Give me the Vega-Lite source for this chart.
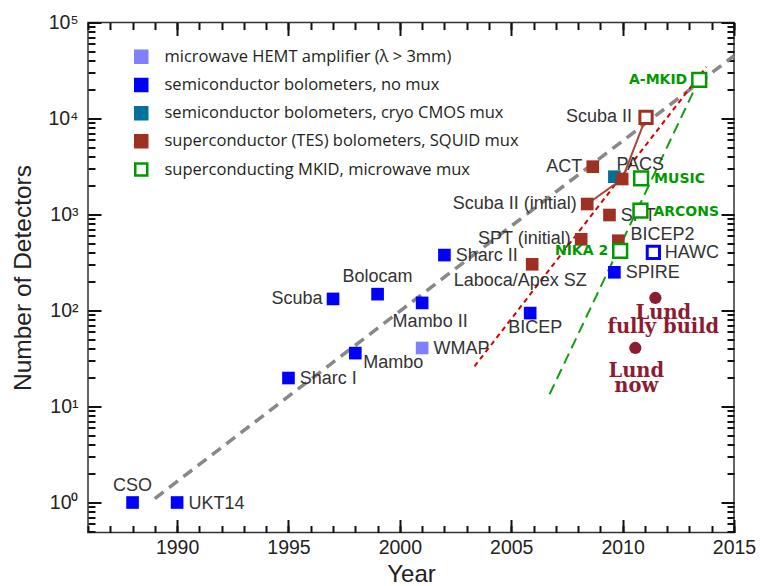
{
  "$schema": "https://vega.github.io/schema/vega-lite/v6.json",
  "width": 646,
  "height": 510,
  "autosize": {"type": "none"},
  "padding": {"left": 88, "top": 22.5, "right": 26, "bottom": 53.5},
  "background": "white",
  "config": {
    "view": {"stroke": "#333333", "strokeWidth": 1.5},
    "font": "Liberation Sans",
    "axis": {"domain": false, "grid": false, "labelColor": "#222222", "labelFont": "Liberation Sans", "labelFontSize": 19.5, "labelFlush": false, "labelOverlap": false, "titleFont": "Liberation Sans", "titleFontWeight": "normal", "titleColor": "#222222"}
  },
  "datasets": {
    "pts": [
      {"name": "CSO", "year": 1988, "n": 1, "type": "semiconductor bolometers, no mux", "stage": "built"},
      {"name": "UKT14", "year": 1990, "n": 1, "type": "semiconductor bolometers, no mux", "stage": "built"},
      {"name": "Sharc I", "year": 1995, "n": 19.8, "type": "semiconductor bolometers, no mux", "stage": "built"},
      {"name": "Scuba", "year": 1997, "n": 132, "type": "semiconductor bolometers, no mux", "stage": "built"},
      {"name": "Mambo", "year": 1998, "n": 36, "type": "semiconductor bolometers, no mux", "stage": "built"},
      {"name": "Bolocam", "year": 1999, "n": 148, "type": "semiconductor bolometers, no mux", "stage": "built"},
      {"name": "Mambo II", "year": 2001, "n": 120, "type": "semiconductor bolometers, no mux", "stage": "built"},
      {"name": "WMAP", "year": 2001, "n": 40.7, "type": "microwave HEMT amplifier (λ > 3mm)", "stage": "built"},
      {"name": "Sharc II", "year": 2002, "n": 378, "type": "semiconductor bolometers, no mux", "stage": "built"},
      {"name": "BICEP", "year": 2005.85, "n": 94, "type": "semiconductor bolometers, no mux", "stage": "built"},
      {"name": "Laboca/Apex SZ", "year": 2005.94, "n": 303, "type": "superconductor (TES) bolometers, SQUID mux", "stage": "built"},
      {"name": "SPT (initial)", "year": 2008.14, "n": 552, "type": "superconductor (TES) bolometers, SQUID mux", "stage": "built"},
      {"name": "Scuba II (initial)", "year": 2008.41, "n": 1286, "type": "superconductor (TES) bolometers, SQUID mux", "stage": "built"},
      {"name": "ACT", "year": 2008.66, "n": 3150, "type": "superconductor (TES) bolometers, SQUID mux", "stage": "built"},
      {"name": "PACS", "year": 2009.63, "n": 2477, "type": "semiconductor bolometers, cryo CMOS mux", "stage": "built"},
      {"name": "Scuba II (partial)", "year": 2009.98, "n": 2343, "type": "superconductor (TES) bolometers, SQUID mux", "stage": "built"},
      {"name": "SPT", "year": 2009.41, "n": 988, "type": "superconductor (TES) bolometers, SQUID mux", "stage": "built"},
      {"name": "BICEP2", "year": 2009.81, "n": 533, "type": "superconductor (TES) bolometers, SQUID mux", "stage": "built"},
      {"name": "SPIRE", "year": 2009.63, "n": 250, "type": "semiconductor bolometers, no mux", "stage": "built"},
      {"name": "Scuba II", "year": 2011.05, "n": 10300, "type": "superconductor (TES) bolometers, SQUID mux", "stage": "planned"},
      {"name": "HAWC", "year": 2011.38, "n": 404, "type": "semiconductor bolometers, no mux", "stage": "planned"},
      {"name": "A-MKID", "year": 2013.44, "n": 25200, "type": "superconducting MKID, microwave mux", "stage": "planned"},
      {"name": "MUSIC", "year": 2010.83, "n": 2383, "type": "superconducting MKID, microwave mux", "stage": "planned"},
      {"name": "ARCONS", "year": 2010.8, "n": 1096, "type": "superconducting MKID, microwave mux", "stage": "planned"},
      {"name": "NIKA 2", "year": 2009.89, "n": 417, "type": "superconducting MKID, microwave mux", "stage": "planned"},
      {"name": "Lund\nfully build", "year": 2011.47, "n": 135, "type": "Lund", "stage": "planned"},
      {"name": "Lund\nnow", "year": 2010.57, "n": 40.7, "type": "Lund", "stage": "built"}
    ],
    "lines": [
      {"line": "gray", "year": 1989.0, "n": 1.1},
      {"line": "gray", "year": 2015, "n": 45000},
      {"line": "red", "year": 2003.35, "n": 26.2},
      {"line": "red", "year": 2013.76, "n": 34500},
      {"line": "green", "year": 2006.72, "n": 13.4},
      {"line": "green", "year": 2013.58, "n": 29900}
    ]
  },
  "resolve": {"axis": {"x": "independent", "y": "independent"}},
  "layer": [
    {
      "data": {"name": "lines"},
      "transform": [{"filter": "datum.line === 'gray'"}],
      "mark": {"type": "line", "color": "#888888", "strokeWidth": 3.5, "strokeDash": [11, 7]},
      "encoding": {
        "x": {"field": "year", "type": "quantitative", "scale": {"domain": [1986, 2015], "nice": false, "zero": false},
          "axis": {"orient": "bottom", "values": [1986,1987,1988,1989,1990,1991,1992,1993,1994,1995,1996,1997,1998,1999,2000,2001,2002,2003,2004,2005,2006,2007,2008,2009,2010,2011,2012,2013,2014,2015], "offset": -7, "tickSize": 7, "tickColor": "#111111", "tickWidth": 2, "format": "d", "labelExpr": "datum.value % 5 === 0 ? datum.label : ''", "labelPadding": 6, "title": "Year", "titleFontSize": 24, "titleX": 323, "titleY": 56, "titleBaseline": "alphabetic", "titleAlign": "center"}},
        "y": {"field": "n", "type": "quantitative", "scale": {"type": "log", "domain": [0.487, 100000], "nice": false},
          "axis": {"orient": "left", "values": [0.5,0.6,0.7,0.8,0.9,1,2,3,4,5,6,7,8,9,10,20,30,40,50,60,70,80,90,100,200,300,400,500,600,700,800,900,1000,2000,3000,4000,5000,6000,7000,8000,9000,10000,20000,30000,40000,50000,60000,70000,80000,90000,100000], "offset": -7, "tickSize": 7, "tickColor": "#111111", "tickWidth": 2, "labelExpr": "datum.value === 1 ? '10⁰' : datum.value === 10 ? '10¹' : datum.value === 100 ? '10²' : datum.value === 1000 ? '10³' : datum.value === 10000 ? '10⁴' : datum.value === 100000 ? '10⁵' : ''", "labelPadding": 10, "title": "Number of Detectors", "titleFontSize": 24.5, "titleX": -72, "titleY": 255, "titleAngle": -90, "titleAlign": "center", "titleBaseline": "middle"}}
      }
    },
    {
      "data": {"name": "lines"},
      "transform": [{"filter": "datum.line === 'red'"}],
      "mark": {"type": "line", "color": "#d40000", "strokeWidth": 2, "strokeDash": [5, 4]},
      "encoding": {
        "x": {"field": "year", "type": "quantitative", "scale": {"domain": [1986, 2015], "nice": false, "zero": false},
          "axis": {"orient": "bottom", "values": [1990,1995,2000,2005,2010,2015], "offset": -13, "tickSize": 13, "tickColor": "#111111", "tickWidth": 2, "labels": false, "title": null}},
        "y": {"field": "n", "type": "quantitative", "scale": {"type": "log", "domain": [0.487, 100000], "nice": false},
          "axis": {"orient": "left", "values": [1,10,100,1000,10000,100000], "offset": -13, "tickSize": 13, "tickColor": "#111111", "tickWidth": 2, "labels": false, "title": null}}
      }
    },
    {
      "data": {"name": "lines"},
      "transform": [{"filter": "datum.line === 'green'"}],
      "mark": {"type": "line", "color": "#12a012", "strokeWidth": 2, "strokeDash": [11, 6]},
      "encoding": {
        "x": {"field": "year", "type": "quantitative", "scale": {"domain": [1986, 2015], "nice": false, "zero": false},
          "axis": {"orient": "top", "values": [1986,1987,1988,1989,1990,1991,1992,1993,1994,1995,1996,1997,1998,1999,2000,2001,2002,2003,2004,2005,2006,2007,2008,2009,2010,2011,2012,2013,2014,2015], "offset": -7, "tickSize": 7, "tickColor": "#111111", "tickWidth": 2, "labels": false, "title": null}},
        "y": {"field": "n", "type": "quantitative", "scale": {"type": "log", "domain": [0.487, 100000], "nice": false},
          "axis": {"orient": "right", "values": [0.5,0.6,0.7,0.8,0.9,1,2,3,4,5,6,7,8,9,10,20,30,40,50,60,70,80,90,100,200,300,400,500,600,700,800,900,1000,2000,3000,4000,5000,6000,7000,8000,9000,10000,20000,30000,40000,50000,60000,70000,80000,90000,100000], "offset": -7, "tickSize": 7, "tickColor": "#111111", "tickWidth": 2, "labels": false, "title": null}}
      }
    },
    {
      "data": {"name": "pts"},
      "transform": [{"filter": {"field": "name", "oneOf": ["Scuba II (initial)", "Scuba II (partial)", "Scuba II"]}}],
      "mark": {"type": "line", "color": "#a8473a", "strokeWidth": 2},
      "encoding": {
        "x": {"field": "year", "type": "quantitative", "scale": {"domain": [1986, 2015], "nice": false, "zero": false},
          "axis": {"orient": "top", "values": [1990,1995,2000,2005,2010,2015], "offset": -13, "tickSize": 13, "tickColor": "#111111", "tickWidth": 2, "labels": false, "title": null}},
        "y": {"field": "n", "type": "quantitative", "scale": {"type": "log", "domain": [0.487, 100000], "nice": false},
          "axis": {"orient": "right", "values": [1,10,100,1000,10000,100000], "offset": -13, "tickSize": 13, "tickColor": "#111111", "tickWidth": 2, "labels": false, "title": null}}
      }
    },
    {
      "data": {"name": "pts"},
      "transform": [{"filter": {"and": [{"not": {"field": "type", "oneOf": ["superconducting MKID, microwave mux", "Lund"]}}, {"not": {"field": "stage", "equal": "planned"}}]}}],
      "mark": {"type": "point", "shape": "square", "filled": true, "size": 160, "opacity": 1, "strokeWidth": 0},
      "encoding": {
        "x": {"field": "year", "type": "quantitative", "scale": {"domain": [1986, 2015], "nice": false, "zero": false}, "axis": null},
        "y": {"field": "n", "type": "quantitative", "scale": {"type": "log", "domain": [0.487, 100000], "nice": false}, "axis": null},
        "fill": {"field": "type", "type": "nominal",
          "scale": {"domain": ["microwave HEMT amplifier (λ > 3mm)", "semiconductor bolometers, no mux", "semiconductor bolometers, cryo CMOS mux", "superconductor (TES) bolometers, SQUID mux", "superconducting MKID, microwave mux"], "range": ["#8080ff", "#0000ff", "#00719b", "#9e3122", "#ffffff"]},
          "legend": {"title": null, "orient": "none", "legendX": 45, "legendY": 26, "symbolType": "square", "symbolSize": 144, "symbolStrokeWidth": 2.5, "symbolOpacity": 1, "labelFont": "Open Sans", "labelFontSize": 16.5, "labelColor": "#231f20", "labelOffset": 15, "labelLimit": 500, "rowPadding": 5.2, "padding": 0,
            "encode": {"symbols": {"update": {"stroke": {"scale": "stroke", "field": "value"}, "strokeWidth": {"value": 2.5}}}}}}
      }
    },
    {
      "data": {"name": "pts"},
      "transform": [{"filter": {"and": [{"not": {"field": "type", "oneOf": ["superconducting MKID, microwave mux", "Lund"]}}, {"field": "stage", "equal": "planned"}]}}],
      "mark": {"type": "point", "shape": "square", "size": 150, "opacity": 1, "strokeWidth": 3, "fill": "#ffffff", "fillOpacity": 1},
      "encoding": {
        "x": {"field": "year", "type": "quantitative", "scale": {"domain": [1986, 2015], "nice": false, "zero": false}, "axis": null},
        "y": {"field": "n", "type": "quantitative", "scale": {"type": "log", "domain": [0.487, 100000], "nice": false}, "axis": null},
        "stroke": {"field": "type", "type": "nominal",
          "scale": {"domain": ["microwave HEMT amplifier (λ > 3mm)", "semiconductor bolometers, no mux", "semiconductor bolometers, cryo CMOS mux", "superconductor (TES) bolometers, SQUID mux", "superconducting MKID, microwave mux"], "range": ["#8080ff", "#0000ff", "#00719b", "#9e3122", "#009a00"]},
          "legend": null}
      }
    },
    {
      "data": {"name": "pts"},
      "transform": [{"filter": {"field": "name", "oneOf": ["UKT14", "Sharc I", "WMAP", "Sharc II", "SPT", "HAWC", "SPIRE"]}}],
      "mark": {"type": "text", "align": "left", "baseline": "middle", "dx": 11.3, "dy": 1, "font": "Liberation Sans", "fontSize": 18, "fill": "#333333"},
      "encoding": {
        "x": {"field": "year", "type": "quantitative", "scale": {"domain": [1986, 2015], "nice": false, "zero": false}, "axis": null},
        "y": {"field": "n", "type": "quantitative", "scale": {"type": "log", "domain": [0.487, 100000], "nice": false}, "axis": null},
        "text": {"field": "name"}
      }
    },
    {
      "data": {"name": "pts"},
      "transform": [{"filter": {"field": "name", "oneOf": ["Scuba", "SPT (initial)", "Scuba II (initial)", "ACT"]}}],
      "mark": {"type": "text", "align": "right", "baseline": "middle", "dx": -10.5, "dy": 0, "font": "Liberation Sans", "fontSize": 18, "fill": "#333333"},
      "encoding": {
        "x": {"field": "year", "type": "quantitative", "scale": {"domain": [1986, 2015], "nice": false, "zero": false}, "axis": null},
        "y": {"field": "n", "type": "quantitative", "scale": {"type": "log", "domain": [0.487, 100000], "nice": false}, "axis": null},
        "text": {"field": "name"}
      }
    },
    {
      "data": {"name": "pts"},
      "transform": [{"filter": {"field": "name", "equal": "Scuba II"}}],
      "mark": {"type": "text", "align": "right", "baseline": "middle", "dx": -14, "dy": 0, "font": "Liberation Sans", "fontSize": 18, "fill": "#333333"},
      "encoding": {
        "x": {"field": "year", "type": "quantitative", "scale": {"domain": [1986, 2015], "nice": false, "zero": false}, "axis": null},
        "y": {"field": "n", "type": "quantitative", "scale": {"type": "log", "domain": [0.487, 100000], "nice": false}, "axis": null},
        "text": {"field": "name"}
      }
    },
    {
      "data": {"name": "pts"},
      "transform": [{"filter": {"field": "name", "oneOf": ["CSO", "Bolocam"]}}],
      "mark": {"type": "text", "align": "center", "baseline": "middle", "dx": 0, "dy": -17, "font": "Liberation Sans", "fontSize": 18, "fill": "#333333"},
      "encoding": {
        "x": {"field": "year", "type": "quantitative", "scale": {"domain": [1986, 2015], "nice": false, "zero": false}, "axis": null},
        "y": {"field": "n", "type": "quantitative", "scale": {"type": "log", "domain": [0.487, 100000], "nice": false}, "axis": null},
        "text": {"field": "name"}
      }
    },
    {
      "data": {"name": "pts"},
      "transform": [{"filter": {"field": "name", "equal": "Mambo"}}],
      "mark": {"type": "text", "align": "left", "baseline": "middle", "dx": 8, "dy": 10, "font": "Liberation Sans", "fontSize": 18, "fill": "#333333"},
      "encoding": {
        "x": {"field": "year", "type": "quantitative", "scale": {"domain": [1986, 2015], "nice": false, "zero": false}, "axis": null},
        "y": {"field": "n", "type": "quantitative", "scale": {"type": "log", "domain": [0.487, 100000], "nice": false}, "axis": null},
        "text": {"field": "name"}
      }
    },
    {
      "data": {"name": "pts"},
      "transform": [{"filter": {"field": "name", "equal": "Mambo II"}}],
      "mark": {"type": "text", "align": "center", "baseline": "middle", "dx": 8, "dy": 19, "font": "Liberation Sans", "fontSize": 18, "fill": "#333333"},
      "encoding": {
        "x": {"field": "year", "type": "quantitative", "scale": {"domain": [1986, 2015], "nice": false, "zero": false}, "axis": null},
        "y": {"field": "n", "type": "quantitative", "scale": {"type": "log", "domain": [0.487, 100000], "nice": false}, "axis": null},
        "text": {"field": "name"}
      }
    },
    {
      "data": {"name": "pts"},
      "transform": [{"filter": {"field": "name", "equal": "BICEP"}}],
      "mark": {"type": "text", "align": "center", "baseline": "middle", "dx": 5, "dy": 15, "font": "Liberation Sans", "fontSize": 18, "fill": "#333333"},
      "encoding": {
        "x": {"field": "year", "type": "quantitative", "scale": {"domain": [1986, 2015], "nice": false, "zero": false}, "axis": null},
        "y": {"field": "n", "type": "quantitative", "scale": {"type": "log", "domain": [0.487, 100000], "nice": false}, "axis": null},
        "text": {"field": "name"}
      }
    },
    {
      "data": {"name": "pts"},
      "transform": [{"filter": {"field": "name", "equal": "Laboca/Apex SZ"}}],
      "mark": {"type": "text", "align": "center", "baseline": "middle", "dx": -12, "dy": 17, "font": "Liberation Sans", "fontSize": 18, "fill": "#333333"},
      "encoding": {
        "x": {"field": "year", "type": "quantitative", "scale": {"domain": [1986, 2015], "nice": false, "zero": false}, "axis": null},
        "y": {"field": "n", "type": "quantitative", "scale": {"type": "log", "domain": [0.487, 100000], "nice": false}, "axis": null},
        "text": {"field": "name"}
      }
    },
    {
      "data": {"name": "pts"},
      "transform": [{"filter": {"field": "name", "equal": "PACS"}}],
      "mark": {"type": "text", "align": "left", "baseline": "middle", "dx": 2, "dy": -12, "font": "Liberation Sans", "fontSize": 18, "fill": "#333333"},
      "encoding": {
        "x": {"field": "year", "type": "quantitative", "scale": {"domain": [1986, 2015], "nice": false, "zero": false}, "axis": null},
        "y": {"field": "n", "type": "quantitative", "scale": {"type": "log", "domain": [0.487, 100000], "nice": false}, "axis": null},
        "text": {"field": "name"}
      }
    },
    {
      "data": {"name": "pts"},
      "transform": [{"filter": {"field": "name", "equal": "BICEP2"}}],
      "mark": {"type": "text", "align": "left", "baseline": "middle", "dx": 12, "dy": -6, "font": "Liberation Sans", "fontSize": 18, "fill": "#333333"},
      "encoding": {
        "x": {"field": "year", "type": "quantitative", "scale": {"domain": [1986, 2015], "nice": false, "zero": false}, "axis": null},
        "y": {"field": "n", "type": "quantitative", "scale": {"type": "log", "domain": [0.487, 100000], "nice": false}, "axis": null},
        "text": {"field": "name"}
      }
    },
    {
      "data": {"name": "pts"},
      "transform": [{"filter": {"field": "type", "equal": "superconducting MKID, microwave mux"}}],
      "mark": {"type": "point", "shape": "square", "size": 190, "opacity": 1, "strokeWidth": 2.5, "fillOpacity": 1},
      "encoding": {
        "x": {"field": "year", "type": "quantitative", "scale": {"domain": [1986, 2015], "nice": false, "zero": false}, "axis": null},
        "y": {"field": "n", "type": "quantitative", "scale": {"type": "log", "domain": [0.487, 100000], "nice": false}, "axis": null},
        "fill": {"field": "type", "type": "nominal",
          "scale": {"domain": ["microwave HEMT amplifier (λ > 3mm)", "semiconductor bolometers, no mux", "semiconductor bolometers, cryo CMOS mux", "superconductor (TES) bolometers, SQUID mux", "superconducting MKID, microwave mux"], "range": ["#8080ff", "#0000ff", "#00719b", "#9e3122", "#ffffff"]},
          "legend": {"title": null, "orient": "none", "legendX": 45, "legendY": 26, "symbolType": "square", "symbolSize": 144, "symbolStrokeWidth": 2.5, "symbolOpacity": 1, "labelFont": "Open Sans", "labelFontSize": 16.5, "labelColor": "#231f20", "labelOffset": 15, "labelLimit": 500, "rowPadding": 5.2, "padding": 0,
            "encode": {"symbols": {"update": {"stroke": {"scale": "stroke", "field": "value"}, "strokeWidth": {"value": 2.5}}}}}},
        "stroke": {"field": "type", "type": "nominal",
          "scale": {"domain": ["microwave HEMT amplifier (λ > 3mm)", "semiconductor bolometers, no mux", "semiconductor bolometers, cryo CMOS mux", "superconductor (TES) bolometers, SQUID mux", "superconducting MKID, microwave mux"], "range": ["#8080ff", "#0000ff", "#00719b", "#9e3122", "#009a00"]},
          "legend": null}
      }
    },
    {
      "data": {"name": "pts"},
      "transform": [{"filter": {"field": "name", "oneOf": ["MUSIC", "ARCONS"]}}],
      "mark": {"type": "text", "align": "left", "baseline": "middle", "dx": 13, "dy": 1, "font": "DejaVu Sans", "fontWeight": "bold", "fontSize": 14, "fill": "#009a00"},
      "encoding": {
        "x": {"field": "year", "type": "quantitative", "scale": {"domain": [1986, 2015], "nice": false, "zero": false}, "axis": null},
        "y": {"field": "n", "type": "quantitative", "scale": {"type": "log", "domain": [0.487, 100000], "nice": false}, "axis": null},
        "text": {"field": "name"}
      }
    },
    {
      "data": {"name": "pts"},
      "transform": [{"filter": {"field": "name", "oneOf": ["A-MKID", "NIKA 2"]}}],
      "mark": {"type": "text", "align": "right", "baseline": "middle", "dx": -12, "dy": 0, "font": "DejaVu Sans", "fontWeight": "bold", "fontSize": 14, "fill": "#009a00"},
      "encoding": {
        "x": {"field": "year", "type": "quantitative", "scale": {"domain": [1986, 2015], "nice": false, "zero": false}, "axis": null},
        "y": {"field": "n", "type": "quantitative", "scale": {"type": "log", "domain": [0.487, 100000], "nice": false}, "axis": null},
        "text": {"field": "name"}
      }
    },
    {
      "data": {"name": "pts"},
      "transform": [{"filter": {"field": "type", "equal": "Lund"}}],
      "mark": {"type": "circle", "size": 150, "opacity": 1, "color": "#8c1c32"},
      "encoding": {
        "x": {"field": "year", "type": "quantitative", "scale": {"domain": [1986, 2015], "nice": false, "zero": false}, "axis": null},
        "y": {"field": "n", "type": "quantitative", "scale": {"type": "log", "domain": [0.487, 100000], "nice": false}, "axis": null}
      }
    },
    {
      "data": {"name": "pts"},
      "transform": [{"filter": {"field": "name", "equal": "Lund\nfully build"}}],
      "mark": {"type": "text", "align": "center", "baseline": "alphabetic", "dx": 8, "dy": 21, "lineBreak": "\n", "lineHeight": 14, "font": "DejaVu Serif", "fontWeight": "bold", "fontSize": 19.5, "fill": "#8c1c32"},
      "encoding": {
        "x": {"field": "year", "type": "quantitative", "scale": {"domain": [1986, 2015], "nice": false, "zero": false}, "axis": null},
        "y": {"field": "n", "type": "quantitative", "scale": {"type": "log", "domain": [0.487, 100000], "nice": false}, "axis": null},
        "text": {"field": "name"}
      }
    },
    {
      "data": {"name": "pts"},
      "transform": [{"filter": {"field": "name", "equal": "Lund\nnow"}}],
      "mark": {"type": "text", "align": "center", "baseline": "alphabetic", "dx": 1, "dy": 29, "lineBreak": "\n", "lineHeight": 15, "font": "DejaVu Serif", "fontWeight": "bold", "fontSize": 19.5, "fill": "#8c1c32"},
      "encoding": {
        "x": {"field": "year", "type": "quantitative", "scale": {"domain": [1986, 2015], "nice": false, "zero": false}, "axis": null},
        "y": {"field": "n", "type": "quantitative", "scale": {"type": "log", "domain": [0.487, 100000], "nice": false}, "axis": null},
        "text": {"field": "name"}
      }
    }
  ]
}
